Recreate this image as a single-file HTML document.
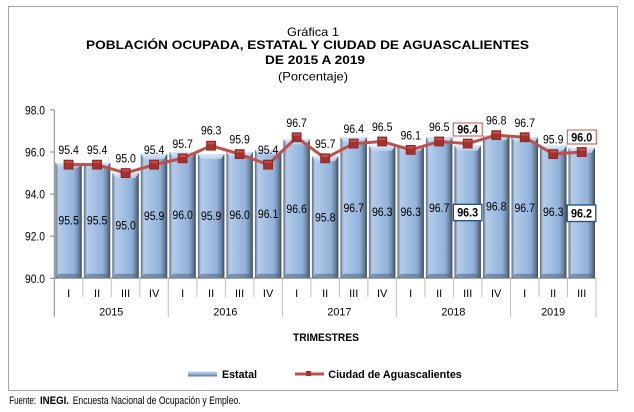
<!DOCTYPE html>
<html><head><meta charset="utf-8"><style>
html,body{margin:0;padding:0;background:#fff;}
svg{display:block;}
text{font-family:"Liberation Sans Narrow","Liberation Sans",Arial,sans-serif;fill:#000;}
</style></head><body>
<svg width="634" height="412" viewBox="0 0 634 412" xmlns="http://www.w3.org/2000/svg">
<defs>
<linearGradient id="gH" x1="0" y1="0" x2="1" y2="0">
<stop offset="0" stop-color="#56677c"/>
<stop offset="0.05" stop-color="#8298b2"/>
<stop offset="0.12" stop-color="#b6cce7"/>
<stop offset="0.4" stop-color="#a3c0e4"/>
<stop offset="0.72" stop-color="#92b2da"/>
<stop offset="0.87" stop-color="#6f88a6"/>
<stop offset="1" stop-color="#3e4b5b"/>
</linearGradient>
<linearGradient id="gTop" x1="0" y1="0" x2="0" y2="1">
<stop offset="0" stop-color="#e2eefb"/>
<stop offset="1" stop-color="#b9d0ee"/>
</linearGradient>
<linearGradient id="gLeg" x1="0" y1="0" x2="0" y2="1">
<stop offset="0" stop-color="#c6d9f0"/>
<stop offset="0.5" stop-color="#94b3dc"/>
<stop offset="1" stop-color="#5d7594"/>
</linearGradient>
<g id="mk">
<rect x="-4.5" y="-4.5" width="9" height="9" fill="#a3312e" stroke="#872624" stroke-width="0.8"/>
<rect x="-3.5" y="-3.5" width="7" height="2" fill="#c65a57" opacity="0.8"/>
</g>
<g id="tb"><polygon points="0,0 26.5,0 23,5 3.5,5" fill="url(#gTop)" opacity="0.9"/></g>
<g id="bb"><polygon points="0,0 26.5,0 23,-4.5 3.5,-4.5" fill="#4f6585" opacity="0.55"/></g>
</defs>

<rect x="0" y="0" width="634" height="412" fill="#fff"/>
<rect x="8.5" y="6.5" width="609" height="384" fill="#fff" stroke="#a6a6a6" stroke-width="1"/>

<!-- Title -->
<text x="287" y="36" font-size="12" textLength="52" lengthAdjust="spacingAndGlyphs">Gráfica 1</text>
<text x="86" y="49" font-size="12" font-weight="bold" textLength="443" lengthAdjust="spacingAndGlyphs">POBLACIÓN OCUPADA, ESTATAL Y CIUDAD DE AGUASCALIENTES</text>
<text x="265" y="64" font-size="12" font-weight="bold" textLength="100" lengthAdjust="spacingAndGlyphs">DE 2015 A 2019</text>
<text x="278" y="80.5" font-size="12" textLength="70" lengthAdjust="spacingAndGlyphs">(Porcentaje)</text>

<!-- Y axis -->
<g stroke="#868686" stroke-width="1">
<line x1="54.3" y1="109.9" x2="54.3" y2="317"/>
<line x1="50" y1="109.9" x2="54.3" y2="109.9"/>
<line x1="50" y1="152" x2="54.3" y2="152"/>
<line x1="50" y1="194.1" x2="54.3" y2="194.1"/>
<line x1="50" y1="236.2" x2="54.3" y2="236.2"/>
<line x1="50" y1="278.3" x2="54.3" y2="278.3"/>
</g>
<g font-size="11.5" text-anchor="end">
<text x="45" y="114.4" textLength="20" lengthAdjust="spacingAndGlyphs">98.0</text>
<text x="45" y="156.5" textLength="20" lengthAdjust="spacingAndGlyphs">96.0</text>
<text x="45" y="198.6" textLength="20" lengthAdjust="spacingAndGlyphs">94.0</text>
<text x="45" y="240.7" textLength="20" lengthAdjust="spacingAndGlyphs">92.0</text>
<text x="45" y="282.8" textLength="20" lengthAdjust="spacingAndGlyphs">90.0</text>
</g>

<!-- Bars -->
<g>
<g transform="translate(55.3,162.5)"><rect width="26.5" height="115.8" fill="url(#gH)"/><use href="#tb"/></g><use href="#bb" x="55.3" y="278.3"/>
<g transform="translate(83.8,162.5)"><rect width="26.5" height="115.8" fill="url(#gH)"/><use href="#tb"/></g><use href="#bb" x="83.8" y="278.3"/>
<g transform="translate(112.3,173.1)"><rect width="26.5" height="105.2" fill="url(#gH)"/><use href="#tb"/></g><use href="#bb" x="112.3" y="278.3"/>
<g transform="translate(140.8,154.1)"><rect width="26.5" height="124.2" fill="url(#gH)"/><use href="#tb"/></g><use href="#bb" x="140.8" y="278.3"/>
<g transform="translate(169.3,152.0)"><rect width="26.5" height="126.3" fill="url(#gH)"/><use href="#tb"/></g><use href="#bb" x="169.3" y="278.3"/>
<g transform="translate(197.9,154.1)"><rect width="26.5" height="124.2" fill="url(#gH)"/><use href="#tb"/></g><use href="#bb" x="197.9" y="278.3"/>
<g transform="translate(226.4,152.0)"><rect width="26.5" height="126.3" fill="url(#gH)"/><use href="#tb"/></g><use href="#bb" x="226.4" y="278.3"/>
<g transform="translate(254.9,149.9)"><rect width="26.5" height="128.4" fill="url(#gH)"/><use href="#tb"/></g><use href="#bb" x="254.9" y="278.3"/>
<g transform="translate(283.4,139.4)"><rect width="26.5" height="138.9" fill="url(#gH)"/><use href="#tb"/></g><use href="#bb" x="283.4" y="278.3"/>
<g transform="translate(311.9,156.2)"><rect width="26.5" height="122.1" fill="url(#gH)"/><use href="#tb"/></g><use href="#bb" x="311.9" y="278.3"/>
<g transform="translate(340.4,137.3)"><rect width="26.5" height="141.0" fill="url(#gH)"/><use href="#tb"/></g><use href="#bb" x="340.4" y="278.3"/>
<g transform="translate(368.9,145.7)"><rect width="26.5" height="132.6" fill="url(#gH)"/><use href="#tb"/></g><use href="#bb" x="368.9" y="278.3"/>
<g transform="translate(397.4,145.7)"><rect width="26.5" height="132.6" fill="url(#gH)"/><use href="#tb"/></g><use href="#bb" x="397.4" y="278.3"/>
<g transform="translate(425.9,137.3)"><rect width="26.5" height="141.0" fill="url(#gH)"/><use href="#tb"/></g><use href="#bb" x="425.9" y="278.3"/>
<g transform="translate(454.4,145.7)"><rect width="26.5" height="132.6" fill="url(#gH)"/><use href="#tb"/></g><use href="#bb" x="454.4" y="278.3"/>
<g transform="translate(483.0,135.2)"><rect width="26.5" height="143.1" fill="url(#gH)"/><use href="#tb"/></g><use href="#bb" x="483.0" y="278.3"/>
<g transform="translate(511.5,137.3)"><rect width="26.5" height="141.0" fill="url(#gH)"/><use href="#tb"/></g><use href="#bb" x="511.5" y="278.3"/>
<g transform="translate(540.0,145.7)"><rect width="26.5" height="132.6" fill="url(#gH)"/><use href="#tb"/></g><use href="#bb" x="540.0" y="278.3"/>
<g transform="translate(568.5,147.8)"><rect width="26.5" height="130.5" fill="url(#gH)"/><use href="#tb"/></g><use href="#bb" x="568.5" y="278.3"/>
</g>

<!-- X axis & dividers -->
<g stroke="#868686" stroke-width="1">
<line x1="54.3" y1="278.3" x2="596" y2="278.3"/>
</g>
<g stroke="#bfbfbf" stroke-width="1">
<line x1="82.8" y1="278.3" x2="82.8" y2="297"/>
<line x1="111.3" y1="278.3" x2="111.3" y2="297"/>
<line x1="139.8" y1="278.3" x2="139.8" y2="297"/>
<line x1="168.3" y1="278.3" x2="168.3" y2="317"/>
<line x1="196.9" y1="278.3" x2="196.9" y2="297"/>
<line x1="225.4" y1="278.3" x2="225.4" y2="297"/>
<line x1="253.9" y1="278.3" x2="253.9" y2="297"/>
<line x1="282.4" y1="278.3" x2="282.4" y2="317"/>
<line x1="310.9" y1="278.3" x2="310.9" y2="297"/>
<line x1="339.4" y1="278.3" x2="339.4" y2="297"/>
<line x1="367.9" y1="278.3" x2="367.9" y2="297"/>
<line x1="396.4" y1="278.3" x2="396.4" y2="317"/>
<line x1="424.9" y1="278.3" x2="424.9" y2="297"/>
<line x1="453.4" y1="278.3" x2="453.4" y2="297"/>
<line x1="481.9" y1="278.3" x2="481.9" y2="297"/>
<line x1="510.5" y1="278.3" x2="510.5" y2="317"/>
<line x1="539.0" y1="278.3" x2="539.0" y2="297"/>
<line x1="567.5" y1="278.3" x2="567.5" y2="297"/>
<line x1="596.0" y1="278.3" x2="596.0" y2="317"/>
</g>
<g font-size="11" text-anchor="middle">
<text x="68.6" y="297">I</text><text x="97.1" y="297">II</text><text x="125.6" y="297">III</text><text x="154.1" y="297">IV</text>
<text x="182.6" y="297">I</text><text x="211.1" y="297">II</text><text x="239.6" y="297">III</text><text x="268.1" y="297">IV</text>
<text x="296.6" y="297">I</text><text x="325.2" y="297">II</text><text x="353.7" y="297">III</text><text x="382.2" y="297">IV</text>
<text x="410.7" y="297">I</text><text x="439.2" y="297">II</text><text x="467.7" y="297">III</text><text x="496.2" y="297">IV</text>
<text x="524.7" y="297">I</text><text x="553.2" y="297">II</text><text x="581.7" y="297">III</text>
<text x="111.3" y="315.7" textLength="24" lengthAdjust="spacingAndGlyphs">2015</text>
<text x="225.4" y="315.7" textLength="24" lengthAdjust="spacingAndGlyphs">2016</text>
<text x="339.4" y="315.7" textLength="24" lengthAdjust="spacingAndGlyphs">2017</text>
<text x="453.4" y="315.7" textLength="24" lengthAdjust="spacingAndGlyphs">2018</text>
<text x="553.2" y="315.7" textLength="24" lengthAdjust="spacingAndGlyphs">2019</text>
</g>

<!-- Bar labels -->
<g font-size="11.5" text-anchor="middle">
<text x="68.6" y="224.4" textLength="20.5" lengthAdjust="spacingAndGlyphs">95.5</text>
<text x="97.1" y="224.4" textLength="20.5" lengthAdjust="spacingAndGlyphs">95.5</text>
<text x="125.6" y="229.7" textLength="20.5" lengthAdjust="spacingAndGlyphs">95.0</text>
<text x="154.1" y="220.2" textLength="20.5" lengthAdjust="spacingAndGlyphs">95.9</text>
<text x="182.6" y="219.2" textLength="20.5" lengthAdjust="spacingAndGlyphs">96.0</text>
<text x="211.1" y="220.2" textLength="20.5" lengthAdjust="spacingAndGlyphs">95.9</text>
<text x="239.6" y="219.2" textLength="20.5" lengthAdjust="spacingAndGlyphs">96.0</text>
<text x="268.1" y="218.1" textLength="20.5" lengthAdjust="spacingAndGlyphs">96.1</text>
<text x="296.6" y="212.8" textLength="20.5" lengthAdjust="spacingAndGlyphs">96.6</text>
<text x="325.2" y="221.3" textLength="20.5" lengthAdjust="spacingAndGlyphs">95.8</text>
<text x="353.7" y="211.8" textLength="20.5" lengthAdjust="spacingAndGlyphs">96.7</text>
<text x="382.2" y="216.0" textLength="20.5" lengthAdjust="spacingAndGlyphs">96.3</text>
<text x="410.7" y="216.0" textLength="20.5" lengthAdjust="spacingAndGlyphs">96.3</text>
<text x="439.2" y="211.8" textLength="20.5" lengthAdjust="spacingAndGlyphs">96.7</text>
<text x="496.2" y="210.7" textLength="20.5" lengthAdjust="spacingAndGlyphs">96.8</text>
<text x="524.7" y="211.8" textLength="20.5" lengthAdjust="spacingAndGlyphs">96.7</text>
<text x="553.2" y="216.0" textLength="20.5" lengthAdjust="spacingAndGlyphs">96.3</text>
</g>
<rect x="453.4" y="204.3" width="28.5" height="16.4" fill="#fff" stroke="#1f4e79" stroke-width="1.3"/>
<rect x="567.2" y="205" width="28.6" height="16.5" fill="#fff" stroke="#1f4e79" stroke-width="1.3"/>
<g font-size="11.5" text-anchor="middle" font-weight="bold">
<text x="467.7" y="216.6" textLength="21" lengthAdjust="spacingAndGlyphs">96.3</text>
<text x="581.5" y="217.4" textLength="21" lengthAdjust="spacingAndGlyphs">96.2</text>
</g>

<!-- Line series -->
<polyline fill="none" stroke="#c0504d" stroke-width="3" stroke-linejoin="round" points="68.56,164.63 97.07,164.63 125.58,173.05 154.09,164.63 182.60,158.32 211.11,145.69 239.62,154.11 268.13,164.63 296.64,137.27 325.15,158.32 353.66,143.58 382.17,141.48 410.68,149.90 439.19,141.48 467.70,143.58 496.21,135.16 524.72,137.27 553.23,154.11 581.74,152.00"/>
<use href="#mk" x="68.56" y="164.63"/>
<use href="#mk" x="97.07" y="164.63"/>
<use href="#mk" x="125.58" y="173.05"/>
<use href="#mk" x="154.09" y="164.63"/>
<use href="#mk" x="182.60" y="158.32"/>
<use href="#mk" x="211.11" y="145.69"/>
<use href="#mk" x="239.62" y="154.11"/>
<use href="#mk" x="268.13" y="164.63"/>
<use href="#mk" x="296.64" y="137.27"/>
<use href="#mk" x="325.15" y="158.32"/>
<use href="#mk" x="353.66" y="143.58"/>
<use href="#mk" x="382.17" y="141.48"/>
<use href="#mk" x="410.68" y="149.90"/>
<use href="#mk" x="439.19" y="141.48"/>
<use href="#mk" x="467.70" y="143.58"/>
<use href="#mk" x="496.21" y="135.16"/>
<use href="#mk" x="524.72" y="137.27"/>
<use href="#mk" x="553.23" y="154.11"/>
<use href="#mk" x="581.74" y="152.00"/>

<!-- Line labels -->
<g font-size="11.5" text-anchor="middle">
<text x="68.6" y="154.1" textLength="20.5" lengthAdjust="spacingAndGlyphs">95.4</text>
<text x="97.1" y="154.1" textLength="20.5" lengthAdjust="spacingAndGlyphs">95.4</text>
<text x="125.6" y="162.5" textLength="20.5" lengthAdjust="spacingAndGlyphs">95.0</text>
<text x="154.1" y="154.1" textLength="20.5" lengthAdjust="spacingAndGlyphs">95.4</text>
<text x="182.6" y="147.8" textLength="20.5" lengthAdjust="spacingAndGlyphs">95.7</text>
<text x="211.1" y="134.5" textLength="20.5" lengthAdjust="spacingAndGlyphs">96.3</text>
<text x="239.6" y="143.6" textLength="20.5" lengthAdjust="spacingAndGlyphs">95.9</text>
<text x="268.1" y="154.1" textLength="20.5" lengthAdjust="spacingAndGlyphs">95.4</text>
<text x="296.6" y="126.8" textLength="20.5" lengthAdjust="spacingAndGlyphs">96.7</text>
<text x="325.2" y="147.8" textLength="20.5" lengthAdjust="spacingAndGlyphs">95.7</text>
<text x="353.7" y="133.1" textLength="20.5" lengthAdjust="spacingAndGlyphs">96.4</text>
<text x="382.2" y="131.0" textLength="20.5" lengthAdjust="spacingAndGlyphs">96.5</text>
<text x="410.7" y="139.4" textLength="20.5" lengthAdjust="spacingAndGlyphs">96.1</text>
<text x="439.2" y="131.0" textLength="20.5" lengthAdjust="spacingAndGlyphs">96.5</text>
<text x="496.2" y="124.7" textLength="20.5" lengthAdjust="spacingAndGlyphs">96.8</text>
<text x="524.7" y="126.8" textLength="20.5" lengthAdjust="spacingAndGlyphs">96.7</text>
<text x="553.2" y="143.6" textLength="20.5" lengthAdjust="spacingAndGlyphs">95.9</text>
</g>
<rect x="453.2" y="123" width="29" height="13" fill="#fff" stroke="#c0504d" stroke-width="1"/>
<rect x="567.3" y="130" width="29" height="14" fill="#fff" stroke="#c0504d" stroke-width="1"/>
<g font-size="11.5" text-anchor="middle" font-weight="bold">
<text x="467.7" y="133.6" textLength="21" lengthAdjust="spacingAndGlyphs">96.4</text>
<text x="581.8" y="141.3" textLength="21" lengthAdjust="spacingAndGlyphs">96.0</text>
</g>

<!-- Axis title -->
<text x="293" y="341" font-size="11" font-weight="bold" textLength="66" lengthAdjust="spacingAndGlyphs">TRIMESTRES</text>

<!-- Legend -->
<rect x="188" y="371.5" width="29" height="5" fill="url(#gLeg)"/>
<text x="222" y="377.8" font-size="11" font-weight="bold" textLength="35" lengthAdjust="spacingAndGlyphs">Estatal</text>
<line x1="295" y1="374" x2="324" y2="374" stroke="#c0504d" stroke-width="3"/>
<rect x="306" y="371" width="5" height="5" fill="#a3312e"/>
<text x="328.3" y="377.8" font-size="11" font-weight="bold" textLength="133.5" lengthAdjust="spacingAndGlyphs">Ciudad de Aguascalientes</text>

<!-- Footer -->
<text x="9.3" y="404" font-size="11" textLength="26.7" lengthAdjust="spacingAndGlyphs">Fuente:</text>
<text x="40" y="404" font-size="11" font-weight="bold" textLength="29" lengthAdjust="spacingAndGlyphs">INEGI.</text>
<text x="72.7" y="404" font-size="11" textLength="168" lengthAdjust="spacingAndGlyphs">Encuesta Nacional de Ocupación y Empleo.</text>
</svg>
</body></html>
